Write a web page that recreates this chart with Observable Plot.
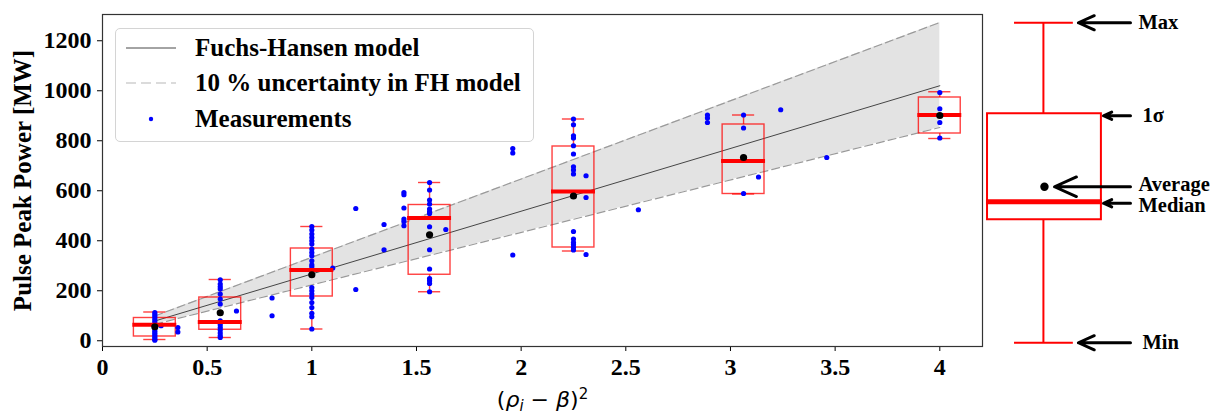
<!DOCTYPE html>
<html>
<head>
<meta charset="utf-8">
<script src="https://cdn.jsdelivr.net/npm/d3@7"></script>
<script src="https://cdn.jsdelivr.net/npm/@observablehq/plot@0.6"></script>
<style>
  html, body { margin: 0; padding: 0; background: #fff; }
  #wrap { position: relative; width: 1222px; height: 416px; overflow: hidden; }
  #legend {
    position: absolute; left: 115px; top: 28px; width: 417px; height: 112px;
    border: 1px solid #d4d4d4; border-radius: 5px; background: rgba(255,255,255,0.85);
    font-family: "Liberation Serif", serif; font-weight: bold; font-size: 25px; color: #000;
  }
  #legend .row { position: absolute; left: 0; height: 30px; width: 417px; }
  #legend .row svg { position: absolute; left: 0; top: 0; }
  #legend .row span { position: absolute; left: 79px; top: 0; line-height: 30px; white-space: nowrap; }
</style>
</head>
<body>
<div id="wrap"></div>
<script>
// ---------- data ----------
const xTicks = [0, 0.5, 1, 1.5, 2, 2.5, 3, 3.5, 4];
const yTicks = [0, 200, 400, 600, 800, 1000, 1200];

// Fuchs-Hansen model and its uncertainty band
const modelX = [0.25, 4];
const modelY = [79, 1020];
const modelUpper = [99, 1273];
const modelLower = [66, 853];

// Measurements: [x, [y values]]
const measurementGroups = [
  [0.25, [113, 105, 97, 88, 80, 72, 64, 55, 47, 38, 30, 22, 14, 6, 2]],
  [0.28, [60]],
  [0.36, [53, 35]],
  [0.5625, [244, 227, 216, 207, 187, 167, 147, 80, 64, 53, 43, 31, 20, 13]],
  [0.64, [119]],
  [0.81, [171, 100]],
  [1.0, [457, 443, 427, 413, 400, 387, 367, 353, 340, 320, 304, 296, 280, 213, 200, 187, 173, 153, 133, 110, 96, 47]],
  [1.1, [291]],
  [1.21, [529, 205]],
  [1.345, [465, 364]],
  [1.44, [593, 584, 531, 487, 477, 460]],
  [1.5625, [633, 603, 563, 547, 527, 516, 509, 456, 364, 287, 249, 240, 229, 196]],
  [1.64, [445]],
  [1.96, [769, 751, 343]],
  [2.25, [887, 864, 820, 811, 780, 747, 696, 683, 667, 437, 407, 393, 384, 373, 363]],
  [2.31, [660, 573, 345]],
  [2.56, [524]],
  [2.89, [903, 891, 873]],
  [3.0625, [903, 851, 589]],
  [3.134, [655]],
  [3.24, [924]],
  [3.46, [733]],
  [4.0, [993, 928, 901, 873, 811]]
];

// Box statistics per group
const boxX      = [0.25, 0.5625, 1, 1.5625, 2.25, 3.0625, 4];
const boxLow    = [17, 44, 177, 264, 373, 587, 829];
const boxHigh   = [91, 173, 369, 543, 777, 865, 973];
const boxMedian = [64, 75, 283, 491, 597, 719, 903];
const boxMean   = [56, 112, 264, 424, 579, 733, 901];
const boxMin    = [5, 13, 47, 196, 359, 587, 809];
const boxMax    = [115, 245, 457, 633, 887, 903, 996];

// Key (schematic box) on the right
const keyLabels = ["Max", "1σ", "Average", "Median", "Min"];
const keyArrowY = [1272, 900, 616, 550, -8];
const keyTextY  = [1272, 900, 624, 540, -8];
const keyBox = { max: 1272, high: 908, mean: 616, median: 556, low: 484, min: -8 };

// ---------- tables ----------
const band = modelX.map((x, i) => ({ x, y: modelY[i], lo: modelLower[i], hi: modelUpper[i] }));
const meas = measurementGroups.flatMap(([x, ys]) => ys.map(y => ({ x, y })));
const boxes = boxX.map((x, i) => ({
  x, low: boxLow[i], high: boxHigh[i], median: boxMedian[i], mean: boxMean[i], min: boxMin[i], max: boxMax[i]
}));

// layout of key column (in x-scale units, beyond the frame)
const K = { c: 4.495, bx1: 4.228, bx2: 4.772, cx1: 4.357, cx2: 4.638, tail: 4.911 };
const keyTip = [4.662, 4.782, 4.548, 4.782, 4.662];
const keyTextX = [4.949, 4.968, 4.949, 4.949, 4.968];
const keyRows = keyLabels.map((t, i) => ({ t, ya: keyArrowY[i], yt: keyTextY[i], tip: keyTip[i], tx: keyTextX[i] }));

const RED = "#ff0000";
const XLABEL = "__XLABEL__";

const svg = Plot.plot({
  width: 1222, height: 416,
  marginLeft: 102, marginRight: 240, marginTop: 14, marginBottom: 70,
  x: { domain: [0, 4.204] },
  y: { domain: [-23, 1305] },
  style: { background: "white", fontFamily: "Liberation Serif", fontWeight: "bold", fontSize: "24px", color: "#000", overflow: "visible" },
  marks: [
    Plot.areaY(band, { x: "x", y1: "lo", y2: "hi", fill: "#e3e3e3" }),
    Plot.line(band, { x: "x", y: "hi", stroke: "#9a9a9a", strokeWidth: 1.2, strokeDasharray: "8,4" }),
    Plot.line(band, { x: "x", y: "lo", stroke: "#9a9a9a", strokeWidth: 1.2, strokeDasharray: "8,4" }),
    Plot.line(band, { x: "x", y: "y", stroke: "#333", strokeWidth: 0.9 }),
    // boxes
    Plot.rect(boxes, { x1: d => d.x - 0.1, x2: d => d.x + 0.1, y1: "low", y2: "high", fill: "none", stroke: RED, strokeOpacity: 0.75, strokeWidth: 1.4 }),
    Plot.ruleX(boxes, { x: "x", y1: "min", y2: "low", stroke: RED, strokeOpacity: 0.75, strokeWidth: 1.4 }),
    Plot.ruleX(boxes, { x: "x", y1: "high", y2: "max", stroke: RED, strokeOpacity: 0.75, strokeWidth: 1.4 }),
    Plot.ruleY(boxes, { y: "min", x1: d => d.x - 0.053, x2: d => d.x + 0.053, stroke: RED, strokeOpacity: 0.75, strokeWidth: 1.4 }),
    Plot.ruleY(boxes, { y: "max", x1: d => d.x - 0.053, x2: d => d.x + 0.053, stroke: RED, strokeOpacity: 0.75, strokeWidth: 1.4 }),
    // measurements
    Plot.dot(meas, { x: "x", y: "y", r: 2.6, fill: "#0000ff", stroke: null }),
    Plot.ruleY(boxes, { y: "median", x1: d => d.x - 0.105, x2: d => d.x + 0.105, stroke: RED, strokeWidth: 4 }),
    Plot.dot(boxes, { x: "x", y: "mean", r: 3.6, fill: "#000", stroke: null }),
    // axes & frame
    Plot.axisY({ ticks: yTicks, tickFormat: d => String(d), tickSize: 5, tickPadding: 6, label: null }),
    Plot.axisX({ ticks: xTicks, tickFormat: d => String(d), tickSize: 5, tickPadding: 6, label: null }),
    Plot.frame({ stroke: "#333", strokeWidth: 1.2 }),
    Plot.text(["Pulse Peak Power [MW]"], { frameAnchor: "left", textAnchor: "middle", lineAnchor: "middle", dx: -80, rotate: -90, fontSize: 25, fontWeight: "bold", fill: "#000" }),
    Plot.text([XLABEL], { frameAnchor: "bottom", textAnchor: "middle", lineAnchor: "middle", dy: 53, fontSize: 22, fontFamily: "DejaVu Sans", fontWeight: "normal", fill: "#000" }),
    // key schematic
    Plot.ruleX([keyBox], { x: () => K.c, y1: "min", y2: "low", stroke: RED, strokeWidth: 2 }),
    Plot.ruleX([keyBox], { x: () => K.c, y1: "high", y2: "max", stroke: RED, strokeWidth: 2 }),
    Plot.ruleY([keyBox], { y: "max", x1: () => K.cx1, x2: () => K.cx2, stroke: RED, strokeWidth: 2 }),
    Plot.ruleY([keyBox], { y: "min", x1: () => K.cx1, x2: () => K.cx2, stroke: RED, strokeWidth: 2 }),
    Plot.rect([keyBox], { x1: () => K.bx1, x2: () => K.bx2, y1: "low", y2: "high", fill: "none", stroke: RED, strokeWidth: 2 }),
    Plot.ruleY([keyBox], { y: "median", x1: () => K.bx1 - 0.005, x2: () => K.bx2 + 0.005, stroke: RED, strokeWidth: 5 }),
    Plot.dot([keyBox], { x: () => K.c + 0.005, y: "mean", r: 4.2, fill: "#000", stroke: null }),
    Plot.arrow(keyRows, { x1: () => K.tail, y1: "ya", x2: "tip", y2: "ya", stroke: "#000", strokeWidth: 3, headLength: 12, headAngle: 48 }),
    Plot.text(keyRows, { x: "tx", y: "yt", text: "t", textAnchor: "start", fontSize: 20.5, fontWeight: "bold", fill: "#000" })
  ]
});

// enlarge tick labels (Plot axis marks default to a small font)
d3.select(svg).selectAll('g[aria-label="y-axis tick label"], g[aria-label="x-axis tick label"]')
  .attr("font-size", "24px").attr("font-weight", "bold").attr("font-family", "Liberation Serif");

// math-styled x label
d3.select(svg).selectAll("text").filter(function () { return this.textContent === XLABEL; }).each(function () {
  const t = d3.select(this);
  t.text(null);
  t.append("tspan").text("(");
  t.append("tspan").attr("font-style", "italic").text("ρ");
  t.append("tspan").attr("font-style", "italic").attr("font-size", "15px").attr("dy", "4px").text("i");
  t.append("tspan").attr("dy", "-4px").text(" − ");
  t.append("tspan").attr("font-style", "italic").text("β");
  t.append("tspan").text(")");
  t.append("tspan").attr("font-size", "15px").attr("dy", "-8px").text("2");
});

const wrap = document.getElementById("wrap");
wrap.appendChild(svg);

// legend
const legend = document.createElement("div");
legend.id = "legend";
const entries = [
  { label: "Fuchs-Hansen model", top: 4, swatch: '<line x1="10" y1="15" x2="60" y2="15" stroke="#333" stroke-width="0.9"/>' },
  { label: "10 % uncertainty in FH model", top: 39, swatch: '<line x1="10" y1="15" x2="60" y2="15" stroke="#cfcfcf" stroke-width="1.5" stroke-dasharray="10,5"/>' },
  { label: "Measurements", top: 75, swatch: '<circle cx="35" cy="15" r="2.2" fill="#0000ff"/>' }
];
for (const e of entries) {
  const row = document.createElement("div");
  row.className = "row";
  row.style.top = e.top + "px";
  row.innerHTML = '<svg width="75" height="30">' + e.swatch + '</svg><span>' + e.label + '</span>';
  legend.appendChild(row);
}
wrap.appendChild(legend);
</script>
</body>
</html>
